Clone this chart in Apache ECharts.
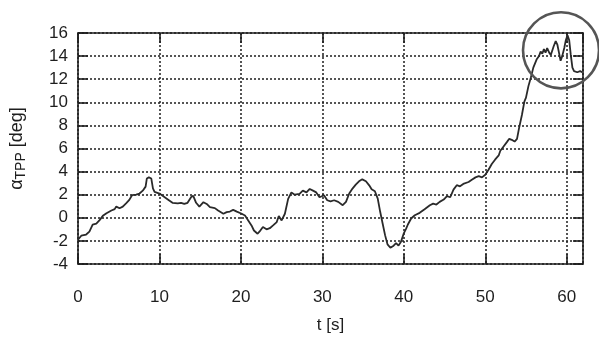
<!DOCTYPE html>
<html>
<head>
<meta charset="utf-8">
<title>Rotor tip path plane angle</title>
<script src="https://cdn.jsdelivr.net/npm/echarts@6.0.0/dist/echarts.min.js"></script>
<style>
    html, body { margin: 0; padding: 0; background: #ffffff; }
    #tppChart { width: 599px; height: 349px; }
</style>
</head>
<body>
<div id="tppChart"></div>
<script>
// Time samples [s]
const timeValues = [
    0, 0.4, 1.0, 1.4, 1.8, 2.25, 2.65, 3.05, 3.5, 4.1, 4.5, 4.7, 5.1, 5.5, 5.9, 6.3, 6.65, 7.15, 7.55, 7.95,
    8.3, 8.45, 8.7, 9.0, 9.2, 9.4, 10.0, 10.6, 11.2, 11.6, 12.25, 12.65, 13.05, 13.45, 13.9, 14.15, 14.5, 14.9,
    15.0, 15.4, 15.8, 16.2, 16.8, 17.2, 17.85, 18.25, 18.65, 19.05, 19.5, 20.1, 20.5, 20.9, 21.3, 21.6, 22.05,
    22.3, 22.7, 23.15, 23.55, 23.95, 24.4, 24.65, 25.0, 25.4, 25.8, 26.2, 26.6, 27.2, 27.6, 28.05, 28.45, 28.85,
    29.25, 29.65, 30.2, 30.6, 31.0, 31.45, 31.95, 32.5, 32.9, 33.3, 33.7, 34.1, 34.5, 34.9, 35.35, 35.75, 36.05,
    36.45, 36.8, 37.1, 37.4, 37.7, 38.0, 38.35, 38.75, 39.05, 39.35, 39.65, 40.0, 40.3, 40.5, 40.9, 41.35, 41.95,
    42.55, 43.2, 43.6, 44.0, 44.4, 44.9, 45.3, 45.7, 46.1, 46.5, 46.9, 47.3, 47.95, 48.35, 48.8, 49.2, 49.6, 50.0,
    50.4, 50.8, 51.2, 51.65, 51.85, 52.25, 52.65, 52.95, 53.25, 53.6, 53.9, 54.15, 54.5, 54.8, 55.0, 55.3, 55.6,
    55.9, 56.3, 56.6, 56.8, 57.0, 57.2, 57.4, 57.6, 57.85, 58.05, 58.4, 58.65, 58.85, 59.05, 59.25, 59.45, 59.7,
    59.9, 60.1, 60.3, 60.5, 60.7, 60.9, 61.1, 61.3, 61.65, 61.9
];

// Tip path plane angle [deg] at each time sample
const alphaValues = [
    -1.9, -1.55, -1.45, -1.2, -0.6, -0.5, -0.2, 0.17, 0.4, 0.63, 0.75, 0.97, 0.83, 0.97, 1.25, 1.55, 1.97, 2.0, 2.1, 2.35,
    2.7, 3.4, 3.5, 3.4, 2.55, 2.25, 2.1, 1.8, 1.5, 1.3, 1.25, 1.3, 1.2, 1.3, 1.8, 1.9, 1.3, 0.97,
    1.06, 1.35, 1.2, 0.92, 0.84, 0.63, 0.35, 0.49, 0.54, 0.69, 0.54, 0.35, 0.2, -0.23, -0.66, -1.1, -1.38,
    -1.18, -0.8, -1.0, -0.9, -0.66, -0.37, 0.15, -0.23, 0.35, 1.64, 2.2, 2.0, 2.07, 2.35, 2.2, 2.5, 2.35,
    2.2, 1.78, 1.95, 1.52, 1.43, 1.52, 1.38, 1.09, 1.38, 2.1, 2.53, 2.87, 3.16, 3.33, 3.16, 2.81, 2.47,
    2.3, 1.66, 0.52, -0.49, -1.5, -2.3, -2.59, -2.41, -2.2, -2.41, -2.07, -1.35, -0.92, -0.58, -0.06, 0.22, 0.43,
    0.74, 1.09, 1.23, 1.15, 1.38, 1.58, 1.87, 1.78, 2.44, 2.82, 2.73, 2.93, 3.1, 3.3, 3.5, 3.6, 3.5, 3.73,
    4.16, 4.66, 5.03, 5.4, 5.8, 6.18, 6.55, 6.84, 6.75, 6.6, 6.84, 7.76, 8.9, 10.06, 10.4, 11.4, 12.15,
    13.0, 13.7, 14.0, 14.4, 14.2, 14.6, 14.3, 14.7, 14.3, 14.1, 14.85, 15.3, 15.0, 14.3, 13.6, 14.0, 14.7,
    15.4, 15.8, 15.4, 14.1, 13.0, 12.7, 12.85, 12.6, 12.7, 12.6
];

// Axis ranges and tick steps
const timeAxis = { min: 0, max: 62, step: 10 };
const alphaAxis = { min: -4, max: 16, step: 2 };

// Circled region (data coordinates of its centre)
const circleCentre = [59.3, 14.5];

const FONT = 'Liberation Sans, Arial, Helvetica, sans-serif';
const INK = '#1e1e1e';

// Build [t, alpha] pairs for the line series
function buildSeriesData() {
    const pairs = [];
    for (let i = 0; i < timeValues.length; i++) {
        pairs.push([timeValues[i], alphaValues[i]]);
    }
    return pairs;
}

// Frame axis (top / right) that only draws line and inner ticks
function frameAxis(range, position) {
    return {
        type: 'value',
        position: position,
        min: range.min,
        max: range.max,
        interval: range.step,
        axisLine: { show: true, onZero: false, lineStyle: { color: INK, width: 1.6 } },
        axisTick: { show: true, inside: true, length: 10, lineStyle: { color: INK, width: 1.6 } },
        axisLabel: { show: false },
        splitLine: { show: false }
    };
}

function renderTppChart() {
    const chart = echarts.init(document.getElementById('tppChart'));

    const options = {
        animation: false,
        backgroundColor: '#ffffff',
        grid: { left: 78, top: 33, right: 16, bottom: 85 },
        xAxis: [
            {
                type: 'value',
                position: 'bottom',
                min: timeAxis.min,
                max: timeAxis.max,
                interval: timeAxis.step,
                name: 't [s]',
                nameLocation: 'middle',
                nameGap: 53,
                nameTextStyle: { fontFamily: FONT, fontSize: 17, color: INK },
                axisLine: { show: true, onZero: false, lineStyle: { color: INK, width: 1.6 } },
                axisTick: { show: true, inside: true, length: 10, lineStyle: { color: INK, width: 1.6 } },
                axisLabel: {
                    margin: 25,
                    fontFamily: FONT,
                    fontSize: 17,
                    color: INK,
                    showMaxLabel: false
                },
                splitLine: { show: true, lineStyle: { color: INK, width: 1.5, type: [2, 2] } }
            },
            frameAxis(timeAxis, 'top')
        ],
        yAxis: [
            {
                type: 'value',
                position: 'left',
                min: alphaAxis.min,
                max: alphaAxis.max,
                interval: alphaAxis.step,
                name: '{a|α}{sub|TPP}{a| [deg]}',
                nameLocation: 'middle',
                nameGap: 50,
                nameTextStyle: {
                    rich: {
                        a: { fontFamily: FONT, fontSize: 18, color: INK },
                        sub: { fontFamily: FONT, fontSize: 14, color: INK, padding: [8, 0, 0, 0] }
                    }
                },
                axisLine: { show: true, onZero: false, lineStyle: { color: INK, width: 1.6 } },
                axisTick: { show: true, inside: true, length: 10, lineStyle: { color: INK, width: 1.6 } },
                axisLabel: { margin: 10, fontFamily: FONT, fontSize: 17, color: INK },
                splitLine: { show: true, lineStyle: { color: INK, width: 1.5, type: [2, 2] } }
            },
            frameAxis(alphaAxis, 'right')
        ],
        series: [
            {
                name: 'alpha TPP',
                type: 'line',
                xAxisIndex: 0,
                yAxisIndex: 0,
                data: buildSeriesData(),
                showSymbol: false,
                smooth: false,
                lineStyle: { color: '#2a2a2a', width: 1.8 }
            }
        ]
    };

    chart.setOption(options);

    // Draw the highlight circle round the end of the record
    const centre = chart.convertToPixel({ xAxisIndex: 0, yAxisIndex: 0 }, circleCentre);
    chart.setOption({
        graphic: [
            {
                type: 'circle',
                shape: { cx: centre[0], cy: centre[1], r: 38 },
                style: { fill: 'none', stroke: '#555555', lineWidth: 2.6 },
                z: 100
            }
        ]
    });
}

renderTppChart();
</script>
</body>
</html>
